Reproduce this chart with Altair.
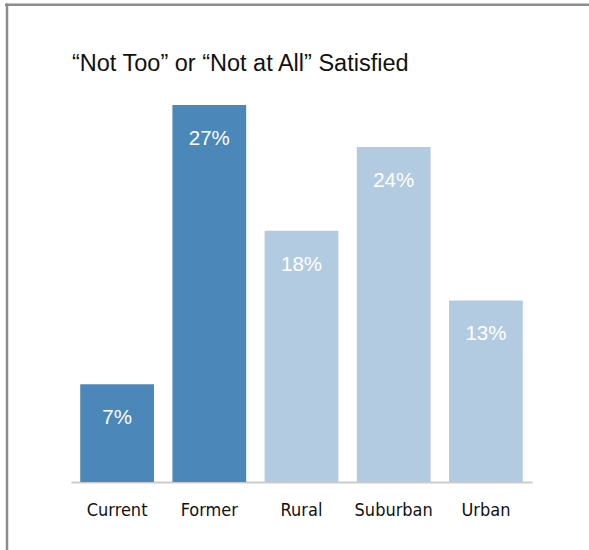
import altair as alt
import pandas as pd

categories = ["Current", "Former", "Rural", "Suburban", "Urban"]
values = [7, 27, 18, 24, 13]
groups = ["status", "status", "area", "area", "area"]
labels = ["7%", "27%", "18%", "24%", "13%"]
title_text = "\u201cNot Too\u201d or \u201cNot at All\u201d Satisfied"

df = pd.DataFrame({"category": categories, "value": values,
                   "group": groups, "label": labels})

x = alt.X("category:N", sort=categories, title=None,
          scale=alt.Scale(paddingInner=0.2, paddingOuter=0.1),
          axis=alt.Axis(labelAngle=0, ticks=False, labelFont="DejaVu Sans Condensed",
                        labelFontSize=18, labelColor="#111111",
                        labelBaseline="alphabetic", labelPadding=33,
                        domainColor="#cccccc", domainWidth=2))
y = alt.Y("value:Q", scale=alt.Scale(domain=[0, 27], nice=False), axis=None)

bars = alt.Chart(df).mark_bar().encode(
    x=x, y=y,
    color=alt.Color("group:N", scale=alt.Scale(domain=["status", "area"],
                                               range=["#4b87b9", "#b3cbe1"]),
                    legend=None),
)

text = alt.Chart(df).mark_text(color="white", font="Liberation Sans", fontSize=20.5,
                               baseline="alphabetic", dy=40).encode(
    x=alt.X("category:N", sort=categories),
    y="value:Q",
    text="label:N",
)

single = alt.Data(values=[{"t": title_text}])
title = alt.Chart(single).mark_text(font="Liberation Sans", fontSize=23.5, color="#111111",
                                    align="left", baseline="alphabetic").encode(
    x=alt.value(1), y=alt.value(-34.3), text="t:N")

top_line = alt.Chart(single).mark_rule(color="#8c8c8c", strokeWidth=2.5).encode(
    x=alt.value(-66), x2=alt.value(530), y=alt.value(-100.25))
left_line = alt.Chart(single).mark_rule(color="#8c8c8c", strokeWidth=2.5).encode(
    x=alt.value(-64), y=alt.value(-101.5), y2=alt.value(450))

chart = alt.layer(bars, text, title, top_line, left_line).properties(
    width=461, height=377,
    background="white",
    autosize=alt.AutoSizeParams(type="none"),
    padding={"left": 71, "top": 105, "right": 57, "bottom": 68},
).configure_view(stroke=None)

chart.save("out.html", embed_options={"renderer": "svg", "actions": False})
